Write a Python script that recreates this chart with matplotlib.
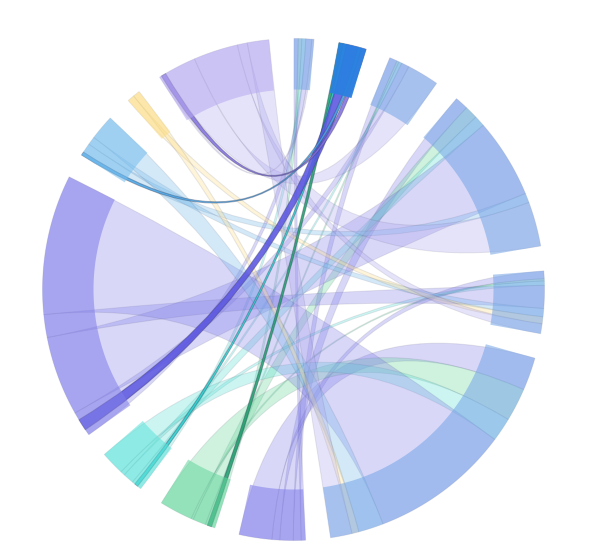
import numpy as np
import matplotlib
matplotlib.use("Agg")
import matplotlib.pyplot as plt
from matplotlib.path import Path
from matplotlib.patches import PathPatch

# flows between the right-hand groups (rows) and the left-hand groups (columns)
row_groups = ["r0", "r1", "r2", "r3", "r4", "r5"]
col_groups = ["c6", "c7", "c8", "c9", "c10", "c11", "c12"]
flow_r0 = [1.0, 0.8, 0.9, 1.4, 0.0, 0.0, 0.5]
flow_r1 = [0.0, 1.0, 0.8, 2.7, 0.8, 0.0, 1.1]
flow_r2 = [1.8, 0.5, 0.7, 1.8, 0.0, 0.0, 7.4]
flow_r3 = [3.1, 3.0, 2.5, 18.4, 2.2, 0.0, 10.3]
flow_r4 = [1.8, 0.5, 1.0, 5.3, 1.9, 1.6, 2.3]
flow_r5 = [7.6, 7.7, 5.5, 32.4, 5.8, 1.6, 5.0]
flows = [flow_r0, flow_r1, flow_r2, flow_r3, flow_r4, flow_r5]

row_colors = ["#75a5e6", "#2a80e0", "#75a5e6", "#75a5e6", "#75a5e6", "#75a5e6"]
col_colors = ["#807de8", "#64d59d", "#5ce2da", "#807de8", "#75bdee", "#fcdc82", "#b7a9f1"]
col_ribbon_colors = ["#807de8", "#62d498", "#58e1d7", "#807de8", "#73b9eb", "#fcdc82", "#aca5ee"]
strong_colors = ["#5a55e0", "#1f9e6e", "#2bd0d0", "#5a55e0", "#4aa6e6", "#fcdc82", "#8270e0"]

PAD = 5.73
CX, CY, R, R_IN = 293.5, 289.5, 251, 200
ROT = 0.1

M = np.array(flows, float)
nr, nc = M.shape
k = (360 - PAD * (nr + nc)) / (2 * M.sum())
M_a = M * k

fig = plt.figure(figsize=(6, 5.52), dpi=100)
ax = fig.add_axes([0, 0, 1, 1])
ax.set_xlim(0, 600)
ax.set_ylim(552, 0)
ax.axis("off")


def pt(a, r=R):
    t = np.radians(a)
    return CX + r * np.sin(t), CY - r * np.cos(t)


def arc(a0, a1, r=R):
    n = max(2, int(abs(a1 - a0)) + 2)
    return [pt(a, r) for a in np.linspace(a0, a1, n)]


# angular slots
angle = ROT
row_span = []
row_slots = {}
for i in range(nr):
    start = angle
    for j in range(nc):
        row_slots[i, j] = (angle, angle + M_a[i, j])
        angle += M_a[i, j]
    row_span.append((start, angle))
    angle += PAD
col_span = []
col_slots = {}
for j in range(nc):
    start = angle
    for i in range(nr):
        col_slots[i, j] = (angle, angle + M_a[i, j])
        angle += M_a[i, j]
    col_span.append((start, angle))
    angle += PAD

# ribbons
for j in range(nc):
    for i in range(nr):
        if M[i, j] <= 0:
            continue
        a0, a1 = row_slots[i, j]
        b0, b1 = col_slots[i, j]
        verts = arc(a0, a1)
        codes = [Path.MOVETO] + [Path.LINETO] * (len(verts) - 1)
        verts += [(CX, CY), pt(b0)]
        codes += [Path.CURVE3, Path.CURVE3]
        tail = arc(b0, b1)[1:]
        verts += tail
        codes += [Path.LINETO] * len(tail)
        verts += [(CX, CY), pt(a0)]
        codes += [Path.CURVE3, Path.CURVE3]
        strong = i == 1
        col = strong_colors[j] if strong else col_ribbon_colors[j]
        alpha = 0.88 if strong else 0.30
        face = matplotlib.colors.to_rgba(col, alpha)
        edge = (0.2, 0.2, 0.3, 0.35 if strong else 0.11)
        ax.add_patch(PathPatch(Path(verts, codes), facecolor=face, edgecolor=edge,
                               lw=0.7, zorder=2 + (1 if strong else 0)))


def ring(a0, a1, color, alpha):
    verts = arc(a0, a1, R) + arc(a1, a0, R_IN)
    verts.append(verts[0])
    codes = [Path.MOVETO] + [Path.LINETO] * (len(verts) - 1)
    ax.add_patch(PathPatch(Path(verts, codes), facecolor=matplotlib.colors.to_rgba(color, alpha),
                           edgecolor="none", zorder=4))


for i in range(nr):
    ring(*row_span[i], row_colors[i], 0.95 if i == 1 else 0.55)
for j in range(nc):
    ring(*col_span[j], col_colors[j], 0.55)

fig.savefig("out.png", dpi=100)
